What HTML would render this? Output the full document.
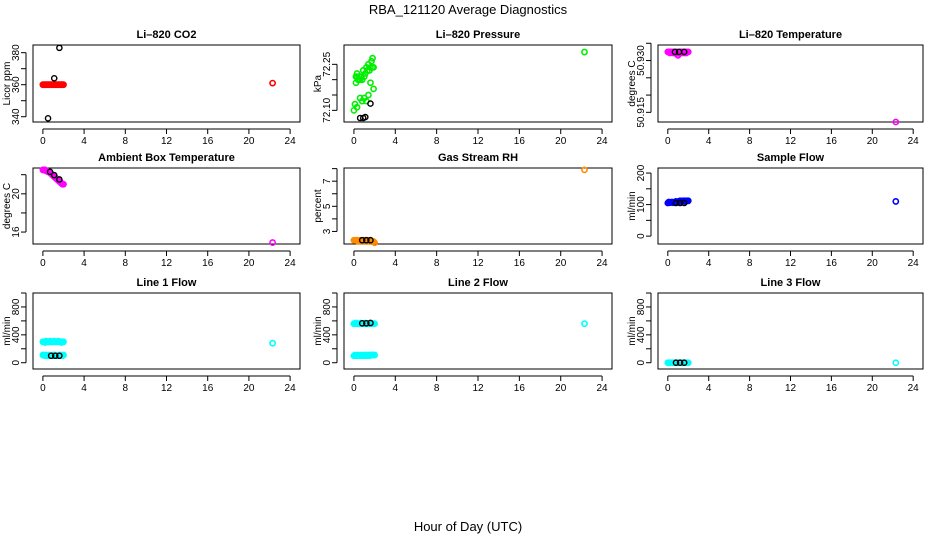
<!DOCTYPE html>
<html><head><meta charset="utf-8"><style>
html,body{margin:0;padding:0;background:#fff;}
svg{display:block;font-family:"Liberation Sans",sans-serif;}
</style></head><body>
<svg id="chart" width="936" height="540" viewBox="0 0 936 540">
<text x="468" y="14" text-anchor="middle" font-size="13">RBA_121120  Average Diagnostics</text>
<text x="468" y="531" text-anchor="middle" font-size="13">Hour of Day (UTC)</text>
</svg>
<script>
// x ticks shared
const xTicks = [0,4,8,12,16,20,24];
const clusterX = [0,0.1,0.2,0.3,0.4,0.5,0.6,0.7,0.8,0.9,1.0,1.1,1.2,1.3,1.4,1.5,1.6,1.7,1.8,1.9,2.0];

const co2Vals = [360,360,360,360,360,360,360,360,360,360,360,360,360,360,360,360,360,360,360,360,360];
const pressX = [0,0.1,0.2,0.3,0.3,0.4,0.5,0.6,0.7,0.8,0.9,1.0,1.1,1.2,1.3,1.4,1.5,1.6,1.7,1.8,1.9,0.2,0.3,0.5,0.6,0.8,1.0,1.2,1.4,1.6,1.8,1.9];
const pressVals = [72.1,72.12,72.21,72.21,72.11,72.2,72.2,72.14,72.21,72.2,72.23,72.21,72.22,72.24,72.23,72.25,72.23,72.19,72.26,72.24,72.17,72.19,72.22,72.21,72.2,72.13,72.14,72.13,72.15,72.24,72.27,72.24];
const tempVals = [50.9325,50.9325,50.9322,50.9325,50.9325,50.9322,50.9325,50.9325,50.932,50.9325,50.9315,50.932,50.9325,50.9325,50.9322,50.9325,50.9322,50.9325,50.9322,50.9325,50.9325];
const ambVals = [22.5,22.5,22.5,22.4,22.4,22.3,22.3,22.2,22.1,22.0,21.9,21.8,21.7,21.6,21.5,21.4,21.3,21.2,21.1,21.0,21.0];
const rhVals = [2.3,2.3,2.3,2.3,2.2,2.3,2.3,2.3,2.2,2.3,2.3,2.3,2.2,2.3,2.3,2.2,2.3,2.2,2.2,2.2,2.1];
const sampleVals = [105,108,106,107,108,106,107,108,110,109,108,110,112,110,111,112,110,112,111,112,112];
const line1Hi = [300,300,290,310,300,300,300,310,300,300,300,310,300,300,300,310,300,300,290,300,300];
const line1Lo = [110,110,100,110,100,100,110,100,100,100,110,100,110,100,100,100,110,100,110,100,110];
const line2Hi = [560,560,570,560,560,560,560,570,560,560,560,570,560,560,560,560,570,560,560,560,560];
const line2Lo = [100,110,100,100,110,100,100,110,100,100,110,100,110,100,110,100,110,110,110,110,110];
const line3Vals = [0,0,0,0,0,0,0,0,0,0,0,0,0,0,0,0,0,0,0,0,0];

const panels = [
 {name:'li820-co2',title:'Li\u2013820 CO2',ylab:'Licor ppm',col:0,row:0,ymin:336.7,ymax:384.8,ticks:[340,350,360,370,380],labels:[340,360,380],color:'#ff0000',
  series:[[clusterX,co2Vals]],out:[22.3,361],black:[[0.5,339],[1.1,364],[1.6,383]]},
 {name:'li820-pressure',title:'Li\u2013820 Pressure',ylab:'kPa',col:1,row:0,ymin:72.062,ymax:72.313,ticks:[72.10,72.15,72.20,72.25],labels:['72.10','72.25'],color:'#00ee00',
  series:[[pressX,pressVals]],out:[22.3,72.29],black:[[0.6,72.075],[0.9,72.075],[1.1,72.078],[1.6,72.122]]},
 {name:'li820-temperature',title:'Li\u2013820 Temperature',ylab:'degrees C',col:2,row:0,ymin:50.9122,ymax:50.9345,ticks:[50.915,50.920,50.925,50.930,50.935],labels:['50.915','50.930'],color:'#ff00ff',
  series:[[clusterX,tempVals]],out:[22.3,50.9122],black:[[0.7,50.9325],[1.1,50.9325],[1.6,50.9325]],tickVals:true},
 {name:'ambient-box-temperature',title:'Ambient Box Temperature',ylab:'degrees C',col:0,row:1,ymin:14.75,ymax:22.7,ticks:[16,18,20,22],labels:[16,20],color:'#ff00ff',
  series:[[clusterX,ambVals]],out:[22.3,14.9],black:[[0.7,22.3],[1.1,21.95],[1.6,21.5]]},
 {name:'gas-stream-rh',title:'Gas Stream RH',ylab:'percent',col:1,row:1,ymin:2.0,ymax:8.05,ticks:[3,4,5,6,7,8],labels:[3,5,7],color:'#ff8c00',
  series:[[clusterX,rhVals]],out:[22.3,7.9],black:[[0.8,2.3],[1.2,2.3],[1.6,2.3]]},
 {name:'sample-flow',title:'Sample Flow',ylab:'ml/min',col:2,row:1,ymin:-25,ymax:216,ticks:[0,50,100,150,200],labels:[0,100,200],color:'#0000ff',
  series:[[clusterX,sampleVals]],out:[22.3,110],black:[[0.8,105],[1.2,105],[1.6,105]]},
 {name:'line1-flow',title:'Line 1 Flow',ylab:'ml/min',col:0,row:2,ymin:-90,ymax:1000,ticks:[0,200,400,600,800,1000],labels:[0,400,800],color:'#00ffff',
  series:[[clusterX,line1Hi],[clusterX,line1Lo]],out:[22.3,280],black:[[0.8,100],[1.2,100],[1.6,100]]},
 {name:'line2-flow',title:'Line 2 Flow',ylab:'ml/min',col:1,row:2,ymin:-90,ymax:1000,ticks:[0,200,400,600,800,1000],labels:[0,400,800],color:'#00ffff',
  series:[[clusterX,line2Hi],[clusterX,line2Lo]],out:[22.3,560],black:[[0.8,565],[1.2,565],[1.6,570]]},
 {name:'line3-flow',title:'Line 3 Flow',ylab:'ml/min',col:2,row:2,ymin:-90,ymax:1000,ticks:[0,200,400,600,800,1000],labels:[0,400,800],color:'#00ffff',
  series:[[clusterX,line3Vals]],out:[22.3,0],black:[[0.8,0],[1.2,0],[1.6,0]]}
];

const colBox = [[33,300],[344,612],[658,923]];
const rowBox = [[45,122],[168,244],[293,369]];
const NS='http://www.w3.org/2000/svg';
const svg=document.getElementById('chart');
function mk(tag,attrs,parent){const e=document.createElementNS(NS,tag);for(const k in attrs)e.setAttribute(k,attrs[k]);(parent||svg).appendChild(e);return e;}

panels.forEach(p=>{
  const [L,R]=colBox[p.col],[T,B]=rowBox[p.row];
  const xs=v=>L+(R-L)*(v+0.96)/25.92;
  const ys=v=>B-(B-T)*(v-p.ymin)/(p.ymax-p.ymin);
  const g=mk('g',{});
  
  
  const box=mk('rect',{x:L,y:T,width:R-L,height:B-T,fill:'none',stroke:'#000','stroke-width':1},g);
  
  
  const t=mk('text',{x:(L+R)/2,y:T-7,'text-anchor':'middle','font-size':11,'font-weight':'bold'},g);
  t.textContent=p.title;
  
  
  const yl=mk('text',{transform:`translate(${L-23},${(T+B)/2}) rotate(-90)`,'text-anchor':'middle','font-size':10},g);
  yl.textContent=p.ylab;
  
  
  // x axis
  mk('line',{x1:xs(0),x2:xs(24),y1:B+7,y2:B+7,stroke:'#000'},g);
  xTicks.forEach(v=>{
    mk('line',{x1:xs(v),x2:xs(v),y1:B+7,y2:B+12,stroke:'#000'},g);
    const tl=mk('text',{x:xs(v),y:B+22,'text-anchor':'middle','font-size':10},g);
    tl.textContent=v;
    
    
  });
  // y axis
  mk('line',{x1:L-7,x2:L-7,y1:ys(p.ticks[0]),y2:ys(p.ticks[p.ticks.length-1]),stroke:'#000'},g);
  p.ticks.forEach(v=>mk('line',{x1:L-12,x2:L-7,y1:ys(v),y2:ys(v),stroke:'#000'},g));
  p.labels.forEach(v=>{
    const yy=ys(+v);
    const tl=mk('text',{transform:`translate(${L-14},${yy}) rotate(-90)`,'text-anchor':'middle','font-size':10},g);
    tl.textContent=v;
    
    
  });
  // series
  p.series.forEach(([X,Y])=>{
    X.forEach((x,i)=>{
      const c=mk('circle',{cx:xs(x),cy:ys(Y[i]),r:2.6,fill:'none',stroke:p.color,'stroke-width':1.6},g);
      
      
    });
  });
  const o=mk('circle',{cx:xs(p.out[0]),cy:ys(p.out[1]),r:2.6,fill:'none',stroke:p.color,'stroke-width':1.6},g);
  
  
  p.black.forEach(([x,y])=>{
    const c=mk('circle',{cx:xs(x),cy:ys(y),r:2.6,fill:'none',stroke:'#000','stroke-width':1.4},g);
    
    
  });
});
</script>
</body></html>
